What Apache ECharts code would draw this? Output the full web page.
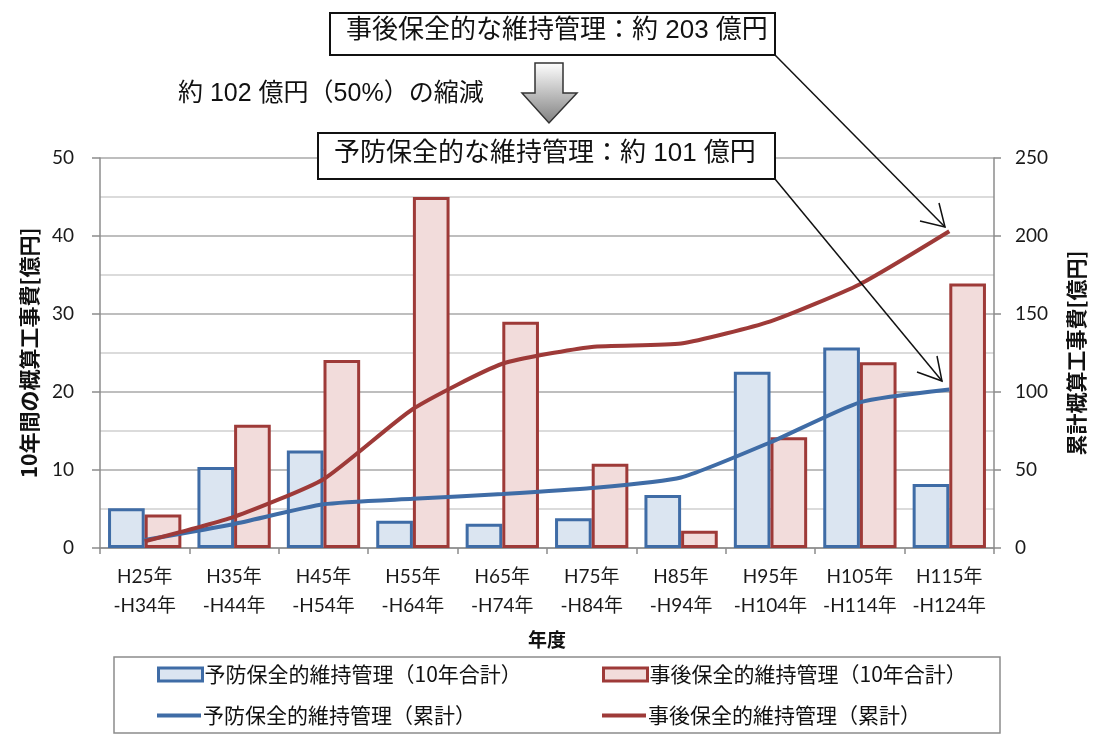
<!DOCTYPE html>
<html>
<head>
<meta charset="utf-8">
<script src="https://cdn.jsdelivr.net/npm/echarts@6/dist/echarts.min.js"></script>
<style>
  html, body { margin: 0; padding: 0; background: #fff; }
  #chart { width: 1095px; height: 735px; }
</style>
</head>
<body>
<div id="chart"></div>
<script>
// 年度区分（10年ごと）
const periods = ['H25年\n-H34年', 'H35年\n-H44年', 'H45年\n-H54年', 'H55年\n-H64年', 'H65年\n-H74年',
                 'H75年\n-H84年', 'H85年\n-H94年', 'H95年\n-H104年', 'H105年\n-H114年', 'H115年\n-H124年'];

// 10年間の概算工事費 [億円]
const preventive10y = [5.1, 10.4, 12.5, 3.5, 3.1, 3.8, 6.8, 22.6, 25.7, 8.2];
const corrective10y = [4.3, 15.8, 24.1, 45.0, 29.0, 10.8, 2.2, 14.2, 23.8, 33.9];

// 累計概算工事費 [億円]
const preventiveCum = [5.1, 15.4, 28.0, 31.5, 34.6, 38.4, 45.2, 67.8, 93.4, 101.6];
const correctiveCum = [4.3, 20.0, 44.1, 89.1, 118.1, 128.9, 131.1, 145.3, 169.1, 203.0];

// 軸目盛
const leftAxisTicks = { min: 0, max: 50, interval: 10 };
const rightAxisTicks = { min: 0, max: 250, interval: 50 };

const names = {
  prevBar: '予防保全的維持管理（10年合計）',
  corrBar: '事後保全的維持管理（10年合計）',
  prevLine: '予防保全的維持管理（累計）',
  corrLine: '事後保全的維持管理（累計）'
};

const BLUE = '#3f6ca6', BLUE_FILL = '#dbe5f1';
const RED = '#9e3a38', RED_FILL = '#f2dcdb';
const FONT = "'Noto Sans CJK JP', sans-serif";
const NUMFONT = "Lato, 'Noto Sans CJK JP', sans-serif";
const BOXFONT = "'Liberation Sans', 'Noto Sans CJK JP', sans-serif";

const chart = echarts.init(document.getElementById('chart'), null, { renderer: 'canvas' });

function legendAt(left, top, item, isLine) {
  return {
    left: left, top: top,
    padding: 0,
    itemWidth: 44, itemHeight: isLine ? 4 : 13,
    itemGap: 0,
    selectedMode: false,
    textStyle: { fontFamily: FONT, fontSize: 21, color: '#111', padding: [0, 0, 0, -3] },
    data: [item]
  };
}

chart.setOption({
  animation: false,
  backgroundColor: '#fff',
  textStyle: { fontFamily: FONT },
  grid: { left: 100, right: 95, top: 158, bottom: 187, containLabel: false },
  legend: [
    legendAt(157, 664, { name: names.prevBar, icon: 'rect', itemStyle: { color: BLUE_FILL, borderColor: BLUE, borderWidth: 3 } }, false),
    legendAt(602, 664, { name: names.corrBar, icon: 'rect', itemStyle: { color: RED_FILL, borderColor: RED, borderWidth: 3 } }, false),
    legendAt(157, 705, { name: names.prevLine, icon: 'rect', itemStyle: { color: BLUE } }, true),
    legendAt(602, 705, { name: names.corrLine, icon: 'rect', itemStyle: { color: RED } }, true)
  ],
  xAxis: {
    type: 'category',
    data: periods,
    name: '年度',
    nameLocation: 'middle',
    nameGap: 82,
    nameTextStyle: { fontFamily: FONT, fontSize: 19, fontWeight: 'bold', color: '#111' },
    axisLine: { show: true, lineStyle: { color: '#8c8c8c', width: 1.5 } },
    axisTick: { show: true, length: 6, lineStyle: { color: '#8c8c8c', width: 1.5 } },
    axisLabel: { interval: 0, fontFamily: NUMFONT, fontSize: 19, color: '#1a1a1a', lineHeight: 29, margin: 14 },
    splitLine: { show: false }
  },
  yAxis: [
    {
      type: 'value',
      min: leftAxisTicks.min, max: leftAxisTicks.max, interval: leftAxisTicks.interval,
      position: 'left',
      name: '10年間の概算工事費[億円]',
      nameLocation: 'middle',
      nameRotate: 90,
      nameGap: 60,
      nameTextStyle: { fontFamily: FONT, fontSize: 21, fontWeight: 'bold', color: '#111' },
      axisLine: { show: true, lineStyle: { color: '#8c8c8c', width: 1.5 } },
      axisTick: { show: true, length: 8, lineStyle: { color: '#8c8c8c', width: 1.5 } },
      axisLabel: { fontFamily: NUMFONT, fontSize: 19, color: '#1a1a1a', margin: 26 },
      splitLine: { show: true, lineStyle: { color: '#a8a8a8', width: 1.5 } },
      minorTick: { show: false, splitNumber: 2 },
      minorSplitLine: { show: true, lineStyle: { color: '#cfcfcf', width: 1.5 } }
    },
    {
      type: 'value',
      min: rightAxisTicks.min, max: rightAxisTicks.max, interval: rightAxisTicks.interval,
      position: 'right',
      name: '累計概算工事費[億円]',
      nameLocation: 'middle',
      nameRotate: 90,
      nameGap: 72,
      nameTextStyle: { fontFamily: FONT, fontSize: 21, fontWeight: 'bold', color: '#111' },
      axisLine: { show: true, lineStyle: { color: '#8c8c8c', width: 1.5 } },
      axisTick: { show: true, length: 7, lineStyle: { color: '#8c8c8c', width: 1.5 } },
      axisLabel: { fontFamily: NUMFONT, fontSize: 19, color: '#1a1a1a', margin: 21 },
      splitLine: { show: false }
    }
  ],
  series: [
    {
      name: names.prevBar, type: 'bar', yAxisIndex: 0,
      data: preventive10y,
      barGap: '0%', barCategoryGap: '18%',
      itemStyle: { color: BLUE_FILL, borderColor: BLUE, borderWidth: 3 }
    },
    {
      name: names.corrBar, type: 'bar', yAxisIndex: 0,
      data: corrective10y,
      barGap: '0%', barCategoryGap: '18%',
      itemStyle: { color: RED_FILL, borderColor: RED, borderWidth: 3 }
    },
    {
      name: names.prevLine, type: 'line', yAxisIndex: 1,
      data: preventiveCum,
      smooth: 0.18, showSymbol: false, symbol: 'none',
      color: BLUE,
      lineStyle: { color: BLUE, width: 4 },
      z: 3
    },
    {
      name: names.corrLine, type: 'line', yAxisIndex: 1,
      data: correctiveCum,
      smooth: 0.18, showSymbol: false, symbol: 'none',
      color: RED,
      lineStyle: { color: RED, width: 4 },
      z: 4
    }
  ],
  graphic: [
    // 凡例枠
    { type: 'rect', shape: { x: 114, y: 657, width: 886, height: 76 },
      style: { fill: 'none', stroke: '#8c8c8c', lineWidth: 1.5 }, z: 0 },
    // 事後保全の合計ラベル
    { type: 'rect', shape: { x: 330, y: 13, width: 445, height: 42 },
      style: { fill: '#fff', stroke: '#111', lineWidth: 2 }, z: 10 },
    { type: 'text', left: 346, top: 18, z: 11,
      style: { text: '事後保全的な維持管理：約 203 億円', font: '26px ' + BOXFONT, fill: '#111' } },
    // 予防保全の合計ラベル
    { type: 'rect', shape: { x: 318, y: 133, width: 457, height: 46 },
      style: { fill: '#fff', stroke: '#111', lineWidth: 2 }, z: 10 },
    { type: 'text', left: 334, top: 141, z: 11,
      style: { text: '予防保全的な維持管理：約 101 億円', font: '26px ' + BOXFONT, fill: '#111' } },
    // 縮減額
    { type: 'text', left: 178, top: 82, z: 11,
      style: { text: '約 102 億円（50%）の縮減', font: '25px ' + BOXFONT, fill: '#111' } },
    // 下向き矢印
    { type: 'polygon', z: 10,
      shape: { points: [[535, 63], [563, 63], [563, 93], [577, 93], [549, 123], [522, 93], [535, 93]] },
      style: {
        stroke: '#333', lineWidth: 1.5,
        fill: new echarts.graphic.LinearGradient(0, 0, 0, 1, [
          { offset: 0, color: '#ffffff' }, { offset: 1, color: '#808080' }
        ])
      } },
    // 引出線（事後保全）
    { type: 'polyline', z: 12, shape: { points: [[775, 55], [945, 227]] }, style: { stroke: '#111', lineWidth: 1.5 } },
    { type: 'polyline', z: 12, shape: { points: [[920, 221], [945, 227], [939, 203]] }, style: { stroke: '#111', lineWidth: 1.5, fill: 'none' } },
    // 引出線（予防保全）
    { type: 'polyline', z: 12, shape: { points: [[775, 179], [942, 381]] }, style: { stroke: '#111', lineWidth: 1.5 } },
    { type: 'polyline', z: 12, shape: { points: [[917, 372], [942, 381], [937, 356]] }, style: { stroke: '#111', lineWidth: 1.5, fill: 'none' } }
  ]
});
</script>
</body>
</html>
